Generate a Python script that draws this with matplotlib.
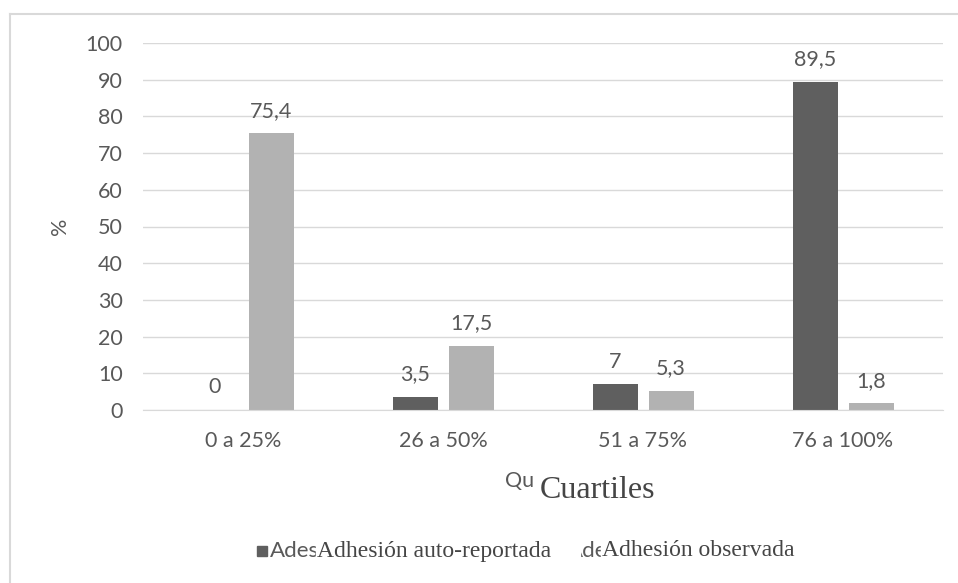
import matplotlib
matplotlib.use("Agg")
import matplotlib.pyplot as plt
from matplotlib.lines import Line2D
from matplotlib.patches import Rectangle
import numpy as np

categories = ["0 a 25%", "26 a 50%", "51 a 75%", "76 a 100%"]
auto_reportada = [0, 3.5, 7, 89.5]
observada = [75.4, 17.5, 5.3, 1.8]
auto_labels = ["0", "3,5", "7", "89,5"]
obs_labels = ["75,4", "17,5", "5,3", "1,8"]
yticks = [0, 10, 20, 30, 40, 50, 60, 70, 80, 90, 100]

DARK = "#5f5f5f"
LIGHT = "#b2b2b2"
TXT = "#595959"
GRID = "#d9d9d9"
SERIF_C = "#454545"
SANS = ["Lato", "DejaVu Sans"]
SERIF = ["Liberation Serif", "DejaVu Serif"]
FS = 15.5

W, H = 958, 583
fig = plt.figure(figsize=(W / 100, H / 100), dpi=100)
fig.patch.set_facecolor("white")

def fx(px):
    return px / W

def fy(py):
    return 1 - py / H

# outer frame (left & top edges visible)
fig.add_artist(Line2D([fx(10), fx(10)], [0, fy(14)], color=GRID, lw=1.5))
fig.add_artist(Line2D([fx(10), 1], [fy(14), fy(14)], color=GRID, lw=1.5))

ax = fig.add_axes([fx(143), fy(410), fx(943) - fx(143), fy(43) - fy(410)])

x = np.arange(len(categories))
bw = 0.225
off = 0.14
b1 = ax.bar(x - off, auto_reportada, bw, color=DARK, zorder=3)
b2 = ax.bar(x + off, observada, bw, color=LIGHT, zorder=3)

for rects, labs in ((b1, auto_labels), (b2, obs_labels)):
    for r, lab in zip(rects, labs):
        ax.annotate(lab, (r.get_x() + r.get_width() / 2, r.get_height()),
                    xytext=(0, 12), textcoords="offset points",
                    ha="center", va="baseline", fontsize=FS, color=TXT,
                    family=SANS)

ax.set_xlim(-0.5, 3.5)
ax.set_ylim(0, 100)
ax.set_yticks(yticks)
ax.set_yticklabels([str(t) for t in yticks], family=SANS)
ax.set_xticks(x)
ax.set_xticklabels(categories, family=SANS)
ax.tick_params(axis="y", length=0, pad=14.5, labelsize=FS, labelcolor=TXT)
ax.tick_params(axis="x", length=0, pad=15, labelsize=FS, labelcolor=TXT)
ax.grid(axis="y", color=GRID, lw=1, zorder=0)
for s in ["left", "right", "top"]:
    ax.spines[s].set_visible(False)
ax.spines["bottom"].set_color(GRID)
ax.spines["bottom"].set_zorder(4)

fig.text(fx(60), fy(226), "%", rotation=90, ha="center", va="center",
         fontsize=FS, color=TXT, family=SANS)

# axis title with leftover text behind
fig.text(fx(505), fy(481), "Qu", ha="left", va="center", fontsize=FS,
         color=TXT, family=SANS, zorder=3)
fig.text(fx(540), fy(490), "Cuartiles", ha="left", va="center",
         fontsize=23, color=SERIF_C, family=SERIF, zorder=5,
         bbox=dict(facecolor="white", edgecolor="none", pad=1))

# legend
ly = fy(551)
fig.add_artist(Rectangle((fx(257), ly - 5 / H), 10 / W, 10 / H,
                         transform=fig.transFigure, color=DARK, zorder=2))
fig.text(fx(270), ly, "Ades", ha="left", va="center", fontsize=FS + 0.5,
         color=TXT, family=SANS, zorder=3)
fig.add_artist(Rectangle((fx(555), ly - 5 / H), 10 / W, 10 / H,
                         transform=fig.transFigure, color=LIGHT, zorder=2))
fig.text(fx(568), ly, "Ades", ha="left", va="center", fontsize=FS + 0.5,
         color=TXT, family=SANS, zorder=3)
# white boxes of the overlaid legend texts
fig.add_artist(Rectangle((fx(316), fy(566)), fx(580) - fx(316), 30 / H,
                         transform=fig.transFigure, color="white", zorder=4))
fig.add_artist(Rectangle((fx(601), fy(566)), fx(800) - fx(601), 30 / H,
                         transform=fig.transFigure, color="white", zorder=4))
fig.text(fx(317), ly, "Adhesión auto-reportada", ha="left", va="center",
         fontsize=17, color=SERIF_C, family=SERIF, zorder=5)
fig.text(fx(602), ly, "Adhesión observada", ha="left", va="center",
         fontsize=17, color=SERIF_C, family=SERIF, zorder=5)

fig.savefig("out.png", dpi=100, facecolor="white")
